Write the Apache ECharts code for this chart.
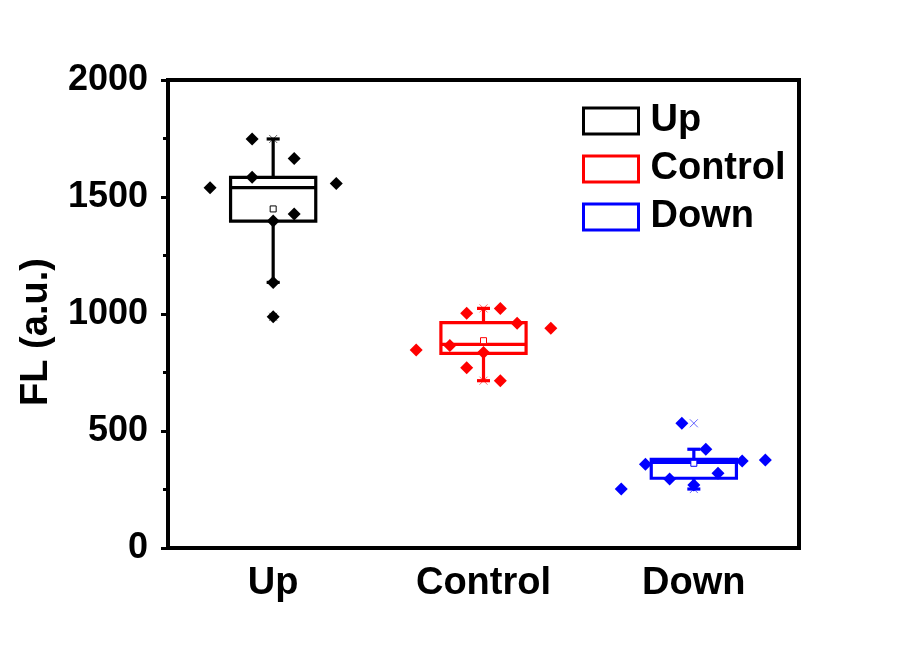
<!DOCTYPE html>
<html><head><meta charset="utf-8">
<script src="https://cdn.jsdelivr.net/npm/echarts@6/dist/echarts.min.js"></script>
<style>html,body{margin:0;padding:0;background:#fff}#c{width:911px;height:649px}</style>
</head><body><div id="c"></div>
<script>
const categories = ['Up', 'Control', 'Down'];
const colors = ['#000000', '#ff0000', '#0000ff'];
const yTickValues = [0, 500, 1000, 1500, 2000];

// individual data points (values) and their horizontal jitter (fraction of category band)
const upValues = [1748, 1664, 1584, 1558, 1540, 1427, 1397, 1135, 988];
const upJitter = [-0.1, 0.1, -0.1, 0.3, -0.3, 0.1, 0, 0, 0];
const controlValues = [1024, 1003, 960, 939, 865, 846, 835, 770, 715];
const controlJitter = [0.08, -0.08, 0.16, 0.32, -0.16, -0.32, 0, -0.08, 0.08];
const downValues = [533, 422, 376, 372, 358, 319, 295, 269, 252];
const downJitter = [-0.057, 0.057, 0.34, 0.23, -0.23, 0.115, -0.115, 0, -0.345];

// box statistics: [whiskerLow, Q1, median, Q3, whiskerHigh, mean, min, max]
const upBox = [1135, 1397, 1540, 1584, 1748, 1449, 988, 1748];
const controlBox = [715, 832, 870, 963, 1024, 886, 715, 1024];
const downBox = [252, 298, 366, 379, 422, 362, 252, 533];

const allValues = [upValues, controlValues, downValues];
const allJitter = [upJitter, controlJitter, downJitter];
const allBoxes = [upBox, controlBox, downBox];

const FONT = "'Liberation Sans', Arial, sans-serif";

function renderBox(params, api) {
  const ci = api.value(0);
  const v = (i) => api.value(i);
  const band = api.size([1, 0])[0];
  const x = api.coord([ci, 0])[0];
  const Y = (val) => api.coord([ci, val])[1];
  const color = colors[ci];
  const hw = band * 0.2025;
  const cw = band * 0.031;
  const lw = 3.2;
  const low = v(1), q1 = v(2), med = v(3), q3 = v(4), high = v(5), mean = v(6), mn = v(7), mx = v(8);
  const ls = { stroke: color, lineWidth: lw, fill: null };
  const children = [
    { type: 'line', shape: { x1: x, y1: Y(q3), x2: x, y2: Y(high) }, style: ls },
    { type: 'line', shape: { x1: x, y1: Y(q1), x2: x, y2: Y(low) }, style: ls },
    { type: 'line', shape: { x1: x - cw, y1: Y(high), x2: x + cw, y2: Y(high) }, style: ls },
    { type: 'line', shape: { x1: x - cw, y1: Y(low), x2: x + cw, y2: Y(low) }, style: ls },
    { type: 'rect', shape: { x: x - hw, y: Y(q3), width: 2 * hw, height: Y(q1) - Y(q3) }, style: { stroke: color, lineWidth: lw, fill: null } },
    { type: 'line', shape: { x1: x - hw, y1: Y(med), x2: x + hw, y2: Y(med) }, style: ls },
    { type: 'rect', shape: { x: x - 3, y: Y(mean) - 3, width: 6, height: 6 }, style: { stroke: color, lineWidth: 1, fill: '#fff' } }
  ];
  [mn, mx].forEach(function (m) {
    const yy = Y(m);
    children.push({ type: 'line', shape: { x1: x - 4, y1: yy - 4, x2: x + 4, y2: yy + 4 }, style: { stroke: color, lineWidth: 1, opacity: 0.6 } });
    children.push({ type: 'line', shape: { x1: x - 4, y1: yy + 4, x2: x + 4, y2: yy - 4 }, style: { stroke: color, lineWidth: 1, opacity: 0.6 } });
  });
  return { type: 'group', children: children };
}

const series = [];
categories.forEach(function (name, i) {
  series.push({
    name: name,
    type: 'custom',
    xAxisIndex: 0,
    yAxisIndex: 0,
    renderItem: renderBox,
    itemStyle: { color: colors[i] },
    encode: { x: 0, y: [1, 2, 3, 4, 5] },
    data: [[i].concat(allBoxes[i])],
    z: 2
  });
});
categories.forEach(function (name, i) {
  series.push({
    name: name + ' points',
    type: 'scatter',
    xAxisIndex: 1,
    yAxisIndex: 0,
    symbol: 'diamond',
    symbolSize: 13,
    itemStyle: { color: colors[i], opacity: 1 },
    data: allValues[i].map(function (val, k) { return [i + 0.5 + allJitter[i][k], val]; }),
    z: 3
  });
});

const chart = echarts.init(document.getElementById('c'), null, { renderer: 'canvas' });
chart.setOption({
  backgroundColor: '#ffffff',
  animation: false,
  grid: { left: 168, right: 112, top: 80, bottom: 101, show: true, borderColor: '#000', borderWidth: 4, backgroundColor: 'transparent' },
  legend: {
    left: 582, top: 102, orient: 'vertical', padding: 0,
    itemWidth: 55, itemHeight: 26, itemGap: 10,
    textStyle: { fontFamily: FONT, fontWeight: 'bold', fontSize: 38, color: '#000', lineHeight: 38, padding: [0, 0, 0, 7] },
    data: categories.map(function (n, i) {
      return { name: n, icon: 'rect', itemStyle: { color: '#fff', borderColor: colors[i], borderWidth: 3 } };
    })
  },
  xAxis: [
    {
      type: 'category', data: categories, boundaryGap: true,
      axisLine: { lineStyle: { color: '#000', width: 4 } },
      axisTick: { alignWithLabel: true, length: 8, lineStyle: { width: 3, color: '#000' } },
      axisLabel: { color: '#000', fontFamily: FONT, fontWeight: 'bold', fontSize: 38, margin: 17 },
      splitLine: { show: false }
    },
    { type: 'value', min: 0, max: 3, show: false }
  ],
  yAxis: {
    type: 'value', min: yTickValues[0], max: yTickValues[yTickValues.length - 1], interval: 500,
    axisLine: { show: true, lineStyle: { color: '#000', width: 4 } },
    axisTick: { show: true, length: 7, lineStyle: { width: 3, color: '#000' } },
    minorTick: { show: true, splitNumber: 2, length: 5, lineStyle: { width: 3, color: '#000' } },
    axisLabel: { color: '#000', fontFamily: FONT, fontWeight: 'bold', fontSize: 36, margin: 20, formatter: function (val) { return String(val); } },
    splitLine: { show: false }
  },
  graphic: [{
    type: 'text', x: 37, y: 332, rotation: Math.PI / 2,
    style: { text: 'FL (a.u.)', fill: '#000', font: 'bold 38px ' + FONT, align: 'center', verticalAlign: 'middle' }
  }],
  series: series
});
</script>
</body></html>
